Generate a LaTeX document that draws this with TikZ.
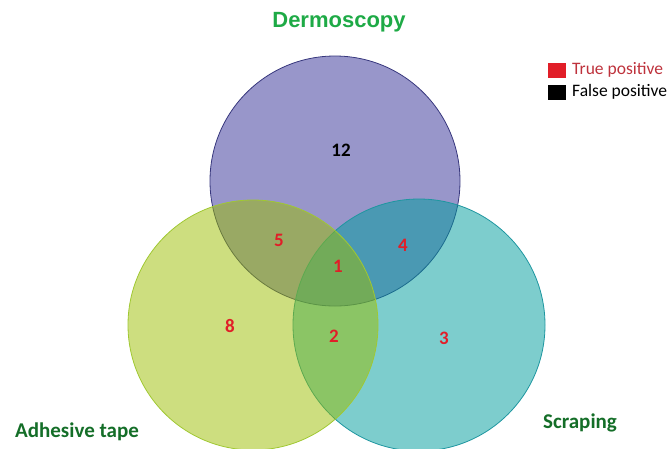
\documentclass[tikz,border=0pt]{standalone}
\usepackage{fontspec}
\setmainfont{Carlito}
\newfontfamily\titlefont{Liberation Sans}
\usetikzlibrary{positioning}
\definecolor{dermfill}{RGB}{152,150,202}
\definecolor{dermline}{RGB}{55,55,125}
\definecolor{tapefill}{RGB}{155,189,0}
\definecolor{tapeline}{RGB}{160,200,50}
\definecolor{scrapfill}{RGB}{0,157,157}
\definecolor{scrapline}{RGB}{30,150,160}
\definecolor{titlegreen}{RGB}{30,170,70}
\definecolor{labelgreen}{RGB}{20,110,40}
\definecolor{tpred}{RGB}{225,30,40}
\definecolor{legred}{RGB}{190,50,60}

\begin{document}
\begin{tikzpicture}[x=1pt,y=-1pt]
  \tikzstyle{setcircle}=[thick]
  \tikzstyle{count}=[font=\fontsize{19}{19}\selectfont\bfseries,text=tpred]
  \tikzstyle{setname}=[font=\fontsize{21}{21}\selectfont\bfseries,text=labelgreen]
  \tikzstyle{legtext}=[font=\fontsize{17.5}{17.5}\selectfont,anchor=west,inner sep=1pt]
  \useasboundingbox (0,0) rectangle (672,448);
  % the three sets (dermoscopy at the back)
  \draw[setcircle,fill=dermfill,draw=dermline] (335,181) circle (125);
  \draw[setcircle,fill=scrapfill,fill opacity=0.51,draw=scrapline] (419,325) circle (126);
  \draw[setcircle,fill=tapefill,fill opacity=0.5,draw=tapeline] (253,325) circle (125);
  % set names
  \node[font=\titlefont\fontsize{22}{22}\selectfont\bfseries,text=titlegreen] (derm) at (339,22) {Dermoscopy};
  \node[setname] (tape) at (77,432) {Adhesive tape};
  \node[setname] (scrap) at (580,423) {Scraping};
  % counts
  \node[count,text=black] (dOnly) at (341,150) {12};
  \node[count] (dt) at (279,240) {5};
  \node[count] (ds) at (403,245) {4};
  \node[count] (dts) at (338,266) {1};
  \node[count] (tOnly) at (230,326) {8};
  \node[count] (ts) at (334,336) {2};
  \node[count] (sOnly) at (444,338) {3};
  % legend
  \fill[tpred] (548,63) rectangle (566,78);
  \fill[black] (548,85) rectangle (566,100);
  \node[legtext,text=legred] (tp) at (571,70) {True positive};
  \node[legtext] (fp) at (571,92) {False positive};
\end{tikzpicture}
\end{document}
